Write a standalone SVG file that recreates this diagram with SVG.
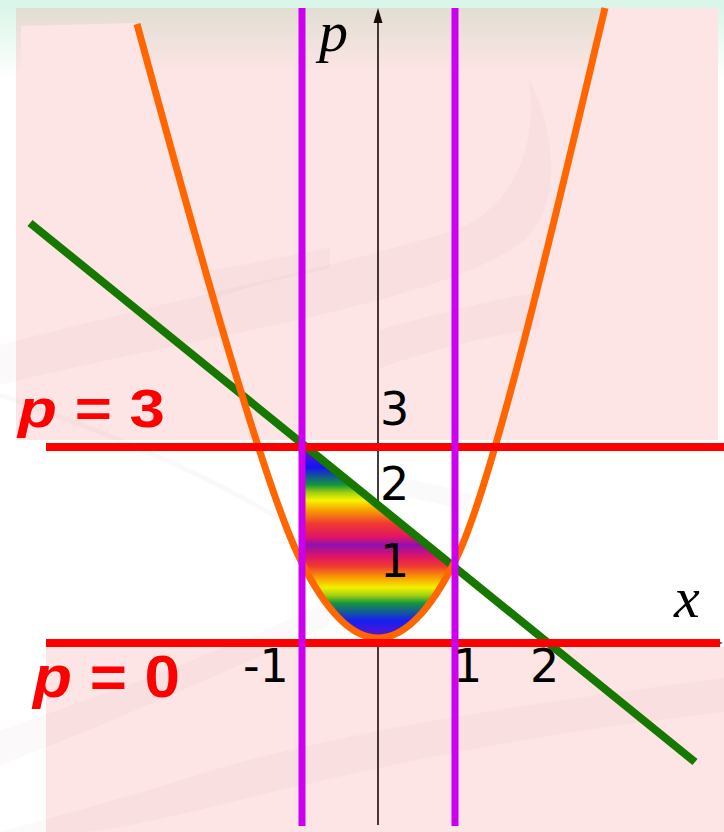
<svg xmlns="http://www.w3.org/2000/svg" width="724" height="832" viewBox="0 0 724 832">
<defs>
<linearGradient id="topMint" x1="0" y1="0" x2="0" y2="1">
<stop offset="0" stop-color="#d8f5e6"/>
<stop offset="1" stop-color="#ffffff"/>
</linearGradient>
<linearGradient id="topTan" x1="0" y1="0" x2="0" y2="1">
<stop offset="0" stop-color="#e2ded3"/>
<stop offset="1" stop-color="#fde5e5"/>
</linearGradient>
<linearGradient id="rainbow" gradientUnits="userSpaceOnUse" x1="0" y1="446" x2="0" y2="640">
<stop offset="0" stop-color="#7a10c8"/>
<stop offset="0.11" stop-color="#1414f0"/>
<stop offset="0.2" stop-color="#14963c"/>
<stop offset="0.24" stop-color="#a0d010"/>
<stop offset="0.28" stop-color="#f8f400"/>
<stop offset="0.33" stop-color="#f8a000"/>
<stop offset="0.4" stop-color="#f03a30"/>
<stop offset="0.47" stop-color="#e01466"/>
<stop offset="0.51" stop-color="#9010b0"/>
<stop offset="0.57" stop-color="#e01466"/>
<stop offset="0.62" stop-color="#f03a30"/>
<stop offset="0.68" stop-color="#f8a000"/>
<stop offset="0.73" stop-color="#f4f000"/>
<stop offset="0.77" stop-color="#a0d010"/>
<stop offset="0.81" stop-color="#14963c"/>
<stop offset="0.9" stop-color="#1420f0"/>
<stop offset="1" stop-color="#7010c0"/>
</linearGradient>
<clipPath id="paraClip">
<path d="M137,24 C177,171 260,478 300,559 Q378,717 456,559 C496,478 565,175 605,8 Z"/>
</clipPath>
<style>
.num { font-family: "DejaVu Sans", sans-serif; font-size: 46px; fill: #000; }
.axl { font-family: "Liberation Serif", serif; font-style: italic; font-size: 58px; fill: #000; }
.eq { font-family: "Liberation Sans", Arial, sans-serif; font-weight: bold; fill: #ff0000; }
.swoosh { fill: #905050; opacity: 0.035; }
.redline { stroke: #ff0000; stroke-width: 8; fill: none; }
.vline { stroke: #cc00ee; stroke-width: 7; fill: none; }
</style>
</defs>

<g id="background">
<rect x="0" y="0" width="724" height="832" fill="#ffffff"/>
<rect x="0" y="0" width="724" height="80" fill="url(#topMint)"/>
<rect x="0" y="0" width="724" height="9" fill="#daf6ea"/>
<rect x="16" y="8" width="702" height="432" fill="#fde5e5"/>
<rect x="16" y="8" width="702" height="66" fill="url(#topTan)"/>
<polygon points="21,26 137,23 153,82 21,82" fill="#fde5e5"/>
<polygon points="605,8 718,8 718,82 588,82" fill="#fde5e5"/>
<rect x="46" y="647" width="678" height="185" fill="#fde5e5"/>
</g>

<g id="swooshes">
<path class="swoosh" d="M0,345 C150,305 360,262 460,228 C515,205 540,140 528,77 C552,120 566,200 525,240 C440,305 200,335 0,385 Z"/>
<path class="swoosh" d="M200,272 C260,262 320,250 330,247 L330,268 C300,275 260,282 210,300 Z"/>
<path class="swoosh" d="M380,330 C430,315 490,300 540,292 L540,328 C490,336 430,350 380,368 Z"/>
<path class="swoosh" d="M0,730 C120,690 250,640 330,600 L330,625 C250,660 120,720 0,765 Z"/>
<path class="swoosh" d="M0,832 C80,810 150,790 230,765 C400,720 560,700 724,678 L724,712 C560,730 400,760 240,800 C160,820 100,832 80,832 Z"/>
<path d="M0,395 C100,430 200,470 290,525" fill="none" stroke="#000" stroke-opacity="0.025" stroke-width="5"/>
<path d="M390,485 C420,490 450,497 470,503" fill="none" stroke="#000" stroke-opacity="0.02" stroke-width="18"/>
</g>

<g id="p-axis">
<line x1="378" y1="20" x2="378" y2="825" stroke="#1a0a0a" stroke-width="1.6"/>
<polygon points="378,8 373.5,23 382.5,23" fill="#1a0a0a"/>
<line x1="46" y1="643" x2="716" y2="643" stroke="#1a0a0a" stroke-width="1.6"/>
<polygon points="723,643 710,639.5 710,646.5" fill="#1a0a0a"/>
</g>

<g id="region">
<g clip-path="url(#paraClip)">
<polygon points="305,444 640,716 305,716" fill="url(#rainbow)"/>
</g>
</g>

<g id="connectors">
<line id="line-green" x1="30" y1="223" x2="695" y2="762" stroke="#177800" stroke-width="8"/>
<path id="parabola" d="M137,24 C177,171 260,478 300,559 Q378,717 456,559 C496,478 565,175 605,8" fill="none" stroke="#ff6600" stroke-width="7"/>
<line id="line-p3" class="redline" x1="46" y1="447" x2="724" y2="447"/>
<line id="line-p0" class="redline" x1="46" y1="643" x2="720" y2="643"/>
<line id="line-xm1" class="vline" x1="302" y1="8" x2="302" y2="826"/>
<line id="line-x1" class="vline" x1="455" y1="8" x2="455" y2="826"/>
</g>

<g id="labels">
<text class="axl" x="319" y="51" font-size="56">p</text>
<text class="axl" x="674" y="617">x</text>
<text class="num" x="380" y="425">3</text>
<text class="num" x="380" y="500">2</text>
<text class="num" x="380" y="577">1</text>
<text class="num" x="243" y="682">-1</text>
<text class="num" x="453" y="682">1</text>
<text class="num" x="530" y="682">2</text>
<text class="eq" x="18" y="427" font-size="54" textLength="147" lengthAdjust="spacingAndGlyphs"><tspan font-style="italic">p</tspan> = 3</text>
<text class="eq" x="33" y="697" font-size="60" textLength="147" lengthAdjust="spacingAndGlyphs"><tspan font-style="italic">p</tspan> = 0</text>
</g>
</svg>
